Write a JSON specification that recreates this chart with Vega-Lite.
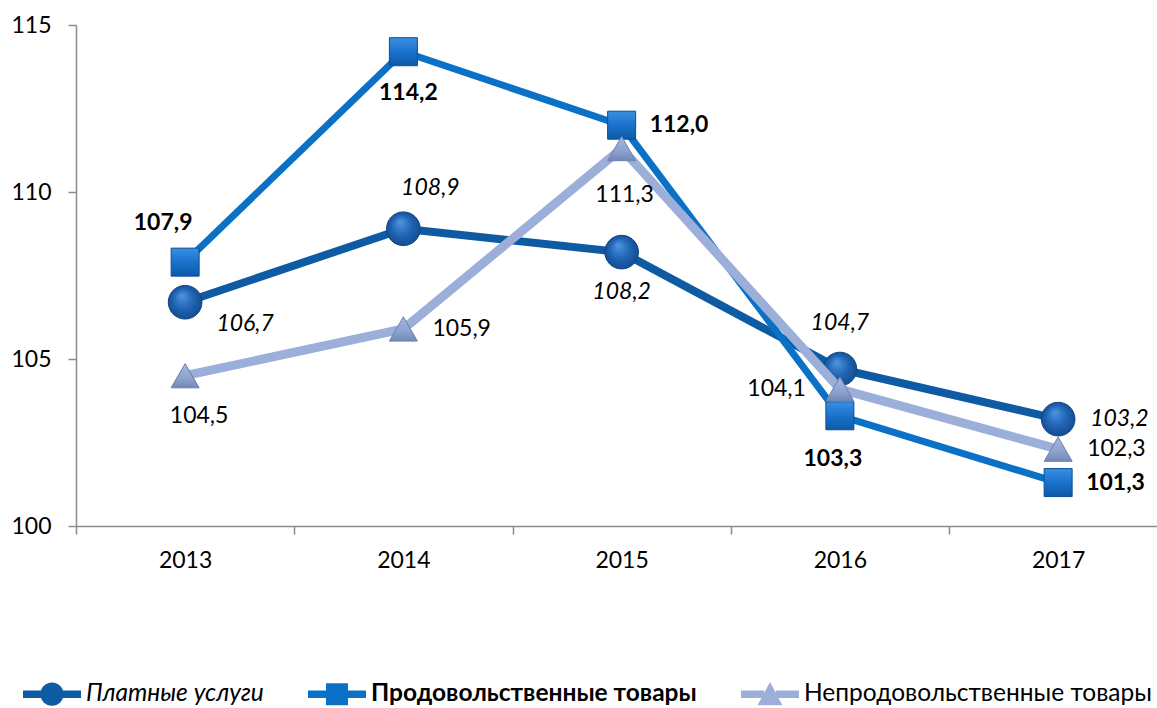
{
  "$schema": "https://vega.github.io/schema/vega-lite/v6.json",
  "width": 1081,
  "height": 501,
  "autosize": {"type": "none"},
  "padding": {"left": 76, "top": 25, "right": 0, "bottom": 182},
  "background": "#ffffff",
  "config": {
    "view": {"stroke": null},
    "locale": {"number": {"decimal": ",", "thousands": " ", "grouping": [3], "currency": ["", ""]}},
    "axis": {
      "domainColor": "#8c8c8c",
      "domainWidth": 1.5,
      "tickColor": "#8c8c8c",
      "tickWidth": 1.5,
      "tickSize": 8,
      "labelFont": "Lato",
      "labelFontSize": 23,
      "labelColor": "#000000",
      "grid": false,
      "title": null
    }
  },
  "data": {
    "values": [
      {"series": "Платные услуги", "year": 2013, "value": 106.7},
      {"series": "Платные услуги", "year": 2014, "value": 108.9},
      {"series": "Платные услуги", "year": 2015, "value": 108.2},
      {"series": "Платные услуги", "year": 2016, "value": 104.7},
      {"series": "Платные услуги", "year": 2017, "value": 103.2},
      {"series": "Продовольственные товары", "year": 2013, "value": 107.9},
      {"series": "Продовольственные товары", "year": 2014, "value": 114.2},
      {"series": "Продовольственные товары", "year": 2015, "value": 112.0},
      {"series": "Продовольственные товары", "year": 2016, "value": 103.3},
      {"series": "Продовольственные товары", "year": 2017, "value": 101.3},
      {"series": "Непродовольственные товары", "year": 2013, "value": 104.5},
      {"series": "Непродовольственные товары", "year": 2014, "value": 105.9},
      {"series": "Непродовольственные товары", "year": 2015, "value": 111.3},
      {"series": "Непродовольственные товары", "year": 2016, "value": 104.1},
      {"series": "Непродовольственные товары", "year": 2017, "value": 102.3}
    ]
  },
  "encoding": {
    "x": {
      "field": "year",
      "type": "quantitative",
      "scale": {"domain": [2012.5, 2017.453], "nice": false, "zero": false},
      "axis": {
        "values": [2012.5, 2013, 2013.5, 2014, 2014.5, 2015, 2015.5, 2016, 2016.5, 2017],
        "labelExpr": "datum.value % 1 === 0 ? format(datum.value, 'd') : ''",
        "tickOpacity": {"condition": {"test": "datum.value % 1 !== 0", "value": 1}, "value": 0},
        "labelFlush": false,
        "labelOverlap": false,
        "labelPadding": 15
      }
    },
    "y": {
      "field": "value",
      "type": "quantitative",
      "scale": {"domain": [100, 115], "nice": false, "zero": false},
      "axis": {"values": [100, 105, 110, 115], "labelPadding": 17, "labelFlush": false, "labelOverlap": false}
    }
  },
  "layer": [
    {
      "transform": [{"filter": "datum.series === 'Платные услуги'"}],
      "mark": {"type": "line", "stroke": "#0f5ba3", "strokeWidth": 8, "strokeJoin": "round"}
    },
    {
      "transform": [{"filter": "datum.series === 'Платные услуги'"}],
      "mark": {"type": "point", "shape": "circle", "filled": true, "size": 1134, "opacity": 1,
        "fill": {"gradient": "radial", "x1": 0.4, "y1": 0.3, "r1": 0.02, "x2": 0.5, "y2": 0.5, "r2": 0.55,
          "stops": [{"offset": 0, "color": "#4d93df"}, {"offset": 0.55, "color": "#1f63b2"}, {"offset": 1, "color": "#124a8c"}]},
        "stroke": "#0f4582", "strokeWidth": 1}
    },
    {
      "transform": [{"filter": "datum.series === 'Продовольственные товары'"}],
      "mark": {"type": "line", "stroke": "#0a71c6", "strokeWidth": 7, "strokeJoin": "round"}
    },
    {
      "transform": [{"filter": "datum.series === 'Продовольственные товары'"}],
      "mark": {"type": "point", "shape": "square", "filled": true, "size": 784, "opacity": 1,
        "fill": {"gradient": "linear", "x1": 0.5, "y1": 0, "x2": 0.5, "y2": 1,
          "stops": [{"offset": 0, "color": "#3a8fe0"}, {"offset": 0.5, "color": "#1a72cc"}, {"offset": 1, "color": "#0c5aa8"}]},
        "stroke": "#0b4f94", "strokeWidth": 1}
    },
    {
      "transform": [{"filter": "datum.series === 'Непродовольственные товары'"}],
      "mark": {"type": "line", "stroke": "#9cafd9", "strokeWidth": 9, "strokeJoin": "round"}
    },
    {
      "transform": [{"filter": "datum.series === 'Непродовольственные товары'"}],
      "mark": {"type": "point", "shape": "triangle-up", "filled": true, "size": 784, "opacity": 1,
        "fill": {"gradient": "linear", "x1": 0.5, "y1": 0, "x2": 0.5, "y2": 1,
          "stops": [{"offset": 0, "color": "#a6b8df"}, {"offset": 0.6, "color": "#8ea2cf"}, {"offset": 1, "color": "#7387b6"}]},
        "stroke": "#6d7fab", "strokeWidth": 1}
    },
    {
      "mark": {"type": "point", "filled": true, "opacity": 0, "size": 3364},
      "encoding": {
        "fill": {
          "field": "series", "type": "nominal",
          "scale": {"domain": ["Платные услуги", "Продовольственные товары", "Непродовольственные товары"], "range": ["#0f5ba3", "#0a71c6", "#9cafd9"]},
          "legend": {
            "title": null, "orient": "none", "legendX": -53, "legendY": 640, "direction": "horizontal", "columns": 3,
            "columnPadding": 44, "symbolSize": 3364, "symbolStrokeWidth": 0, "symbolOpacity": 1,
            "labelFont": "Lato", "labelFontSize": 24.5, "labelColor": "#000000", "labelOffset": 5, "labelLimit": 0, "padding": 0,
            "labelFontStyle": {"expr": "datum.value === 'Платные услуги' ? 'italic' : 'normal'"},
            "labelFontWeight": {"expr": "datum.value === 'Продовольственные товары' ? 'bold' : 'normal'"}
          }
        },
        "shape": {
          "field": "series", "type": "nominal",
          "scale": {"domain": ["Платные услуги", "Продовольственные товары", "Непродовольственные товары"],
            "range": [
              "M-1,-0.13 H-0.3 V0.13 H-1 Z M0.3,-0.13 H1 V0.13 H0.3 Z M-0.4,0 A0.4,0.4 0 1,1 0.4,0 A0.4,0.4 0 1,1 -0.4,0 Z",
              "M-1,-0.13 H-0.38 V0.13 H-1 Z M0.38,-0.13 H1 V0.13 H0.38 Z M-0.38,-0.38 H0.38 V0.38 H-0.38 Z",
              "M-1,-0.13 H-0.2 V0.13 H-1 Z M0.2,-0.13 H1 V0.13 H0.2 Z M0,-0.42 L0.43,0.38 H-0.43 Z"
            ]},
          "legend": {
            "title": null, "orient": "none", "legendX": -53, "legendY": 640, "direction": "horizontal", "columns": 3,
            "columnPadding": 44, "symbolSize": 3364, "symbolStrokeWidth": 0, "symbolOpacity": 1,
            "labelFont": "Lato", "labelFontSize": 24.5, "labelColor": "#000000", "labelOffset": 5, "labelLimit": 0, "padding": 0,
            "labelFontStyle": {"expr": "datum.value === 'Платные услуги' ? 'italic' : 'normal'"},
            "labelFontWeight": {"expr": "datum.value === 'Продовольственные товары' ? 'bold' : 'normal'"}
          }
        }
      }
    },
    {
      "transform": [{"filter": "datum.series === 'Платные услуги' && datum.year === 2017"}],
      "mark": {"type": "text", "font": "Lato", "fontSize": 23, "fontStyle": "italic", "color": "#000000", "align": "left", "baseline": "middle", "dx": 32, "dy": 0},
      "encoding": {"text": {"field": "value", "type": "quantitative", "format": ".1f"}}
    },
    {
      "transform": [{"filter": "datum.series === 'Платные услуги' && datum.year === 2015"}],
      "mark": {"type": "text", "font": "Lato", "fontSize": 23, "fontStyle": "italic", "color": "#000000", "align": "center", "baseline": "middle", "dx": 0, "dy": 40},
      "encoding": {"text": {"field": "value", "type": "quantitative", "format": ".1f"}}
    },
    {
      "transform": [{"filter": "datum.series === 'Платные услуги' && datum.year === 2016"}],
      "mark": {"type": "text", "font": "Lato", "fontSize": 23, "fontStyle": "italic", "color": "#000000", "align": "center", "baseline": "middle", "dx": 0, "dy": -46},
      "encoding": {"text": {"field": "value", "type": "quantitative", "format": ".1f"}}
    },
    {
      "transform": [{"filter": "datum.series === 'Платные услуги' && datum.year === 2014"}],
      "mark": {"type": "text", "font": "Lato", "fontSize": 23, "fontStyle": "italic", "color": "#000000", "align": "center", "baseline": "middle", "dx": 27, "dy": -41},
      "encoding": {"text": {"field": "value", "type": "quantitative", "format": ".1f"}}
    },
    {
      "transform": [{"filter": "datum.series === 'Платные услуги' && datum.year === 2013"}],
      "mark": {"type": "text", "font": "Lato", "fontSize": 23, "fontStyle": "italic", "color": "#000000", "align": "center", "baseline": "middle", "dx": 60, "dy": 22},
      "encoding": {"text": {"field": "value", "type": "quantitative", "format": ".1f"}}
    },
    {
      "transform": [{"filter": "datum.series === 'Продовольственные товары' && (datum.year === 2015 || datum.year === 2017)"}],
      "mark": {"type": "text", "font": "Lato", "fontSize": 23, "fontWeight": "bold", "color": "#000000", "align": "left", "baseline": "middle", "dx": 28, "dy": 0},
      "encoding": {"text": {"field": "value", "type": "quantitative", "format": ".1f"}}
    },
    {
      "transform": [{"filter": "datum.series === 'Продовольственные товары' && datum.year === 2014"}],
      "mark": {"type": "text", "font": "Lato", "fontSize": 23, "fontWeight": "bold", "color": "#000000", "align": "center", "baseline": "middle", "dx": 5, "dy": 41},
      "encoding": {"text": {"field": "value", "type": "quantitative", "format": ".1f"}}
    },
    {
      "transform": [{"filter": "datum.series === 'Продовольственные товары' && datum.year === 2016"}],
      "mark": {"type": "text", "font": "Lato", "fontSize": 23, "fontWeight": "bold", "color": "#000000", "align": "center", "baseline": "middle", "dx": -7, "dy": 43},
      "encoding": {"text": {"field": "value", "type": "quantitative", "format": ".1f"}}
    },
    {
      "transform": [{"filter": "datum.series === 'Продовольственные товары' && datum.year === 2013"}],
      "mark": {"type": "text", "font": "Lato", "fontSize": 23, "fontWeight": "bold", "color": "#000000", "align": "center", "baseline": "middle", "dx": -22, "dy": -39},
      "encoding": {"text": {"field": "value", "type": "quantitative", "format": ".1f"}}
    },
    {
      "transform": [{"filter": "datum.series === 'Непродовольственные товары' && (datum.year === 2014 || datum.year === 2017)"}],
      "mark": {"type": "text", "font": "Lato", "fontSize": 23, "color": "#000000", "align": "left", "baseline": "middle", "dx": 29, "dy": 0},
      "encoding": {"text": {"field": "value", "type": "quantitative", "format": ".1f"}}
    },
    {
      "transform": [{"filter": "datum.series === 'Непродовольственные товары' && datum.year === 2015"}],
      "mark": {"type": "text", "font": "Lato", "fontSize": 23, "color": "#000000", "align": "center", "baseline": "middle", "dx": 3, "dy": 46},
      "encoding": {"text": {"field": "value", "type": "quantitative", "format": ".1f"}}
    },
    {
      "transform": [{"filter": "datum.series === 'Непродовольственные товары' && datum.year === 2013"}],
      "mark": {"type": "text", "font": "Lato", "fontSize": 23, "color": "#000000", "align": "center", "baseline": "middle", "dx": 14, "dy": 40},
      "encoding": {"text": {"field": "value", "type": "quantitative", "format": ".1f"}}
    },
    {
      "transform": [{"filter": "datum.series === 'Непродовольственные товары' && datum.year === 2016"}],
      "mark": {"type": "text", "font": "Lato", "fontSize": 23, "color": "#000000", "align": "right", "baseline": "middle", "dx": -34, "dy": 0},
      "encoding": {"text": {"field": "value", "type": "quantitative", "format": ".1f"}}
    }
  ]
}
